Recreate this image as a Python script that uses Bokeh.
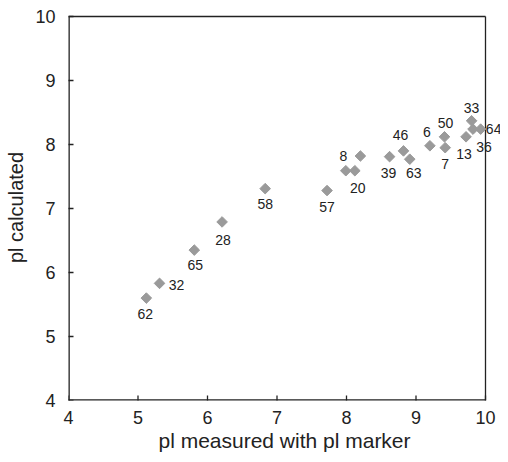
import numpy as np
from bokeh.plotting import figure
from bokeh.models import ColumnDataSource, FixedTicker
from bokeh.core.properties import value
from bokeh.embed import file_html
from bokeh.resources import INLINE

# data
ids = ["33", "64", "36", "13", "50", "7", "6", "46", "63", "39", "8", "20", "",
       "57", "58", "28", "65", "32", "62"]
pi_measured = [9.80, 9.93, 9.82, 9.72, 9.41, 9.42, 9.20, 8.82, 8.91, 8.62, 8.20,
               8.12, 7.99, 7.72, 6.83, 6.21, 5.81, 5.31, 5.12]
pi_calculated = [8.37, 8.24, 8.24, 8.12, 8.12, 7.95, 7.98, 7.90, 7.77, 7.81, 7.82,
                 7.59, 7.59, 7.28, 7.31, 6.79, 6.35, 5.83, 5.60]
ticks = [4, 5, 6, 7, 8, 9, 10]

# label placement (screen pixels, right / up)
lab_dx = [0, 13, 11, -2, 1, 0, -3, -3, 4, -1, -17, 3, 0, 0, 0, 1, 1, 17, -1]
lab_dy = [13, 0, -18, -17, 14, -16, 14, 16, -14, -17, 0, -17, 0, -17, -16, -18, -15, -2, -16]

FONT = "Liberation Sans"
INK = "#222222"
LW = 1.3      # edge thickness, px
TICK = 5      # inward tick length, px

lo, hi = ticks[0], ticks[-1]
W, H = 500, 454
B_LEFT, B_TOP, B_BOTTOM = 68, 14, 50
# x: frame runs to the right edge of the figure, the value 10 sits at 485 px
x_end = hi + (W - 485) * (hi - lo) / (485 - B_LEFT)
# y: a little room above 10 so the top edge is not cut
fh = H - B_TOP - B_BOTTOM
pad = 2.0
y_end = (hi - lo * pad / fh) / (1 - pad / fh)

# pixels per data unit, to turn the label pixel offsets into data offsets
ppx = (W - B_LEFT) / (x_end - lo)
ppy = fh / (y_end - lo)
lab_x = [x + dx / ppx for x, dx in zip(pi_measured, lab_dx)]
lab_y = [y + dy / ppy for y, dy in zip(pi_calculated, lab_dy)]

src = ColumnDataSource(dict(x=pi_measured, y=pi_calculated))
lab_src = ColumnDataSource(dict(x=lab_x, y=lab_y, t=ids))

p = figure(width=W, height=H, x_range=(lo, x_end), y_range=(lo, y_end),
           output_backend="svg", toolbar_location=None,
           min_border_left=B_LEFT, min_border_right=0, min_border_top=B_TOP,
           min_border_bottom=B_BOTTOM)
p.grid.visible = False
p.outline_line_color = None

mid = (lo + hi) / 2
span = hi - lo
edge = dict(fill_color=INK, line_color=None)
# box edges drawn as thin filled bars (the left and bottom ones are half cut by the frame)
p.rect(x=[lo], y=[mid], width=[2 * LW], height=[span], width_units="screen", **edge)
p.rect(x=[hi], y=[mid], width=[LW], height=[span], width_units="screen", **edge)
p.rect(x=[mid], y=[lo], width=[span], height=[2 * LW], height_units="screen", **edge)
p.rect(x=[mid], y=[hi], width=[span], height=[LW], height_units="screen", **edge)
# inward ticks
p.rect(x=ticks, y=[lo] * len(ticks), width=LW, height=2 * TICK,
       width_units="screen", height_units="screen", **edge)
p.rect(x=[lo] * len(ticks), y=ticks, width=2 * TICK, height=LW,
       width_units="screen", height_units="screen", **edge)

p.scatter("x", "y", source=src, marker="square", angle=np.pi / 4, size=7.5,
          fill_color="#9a9a9a", line_color="#9a9a9a")

p.text(x="x", y="y", text="t", source=lab_src,
       text_align="center", text_baseline="middle",
       text_font=value(FONT), text_font_size=value("14px"), text_color=INK)

for ax in (p.xaxis[0], p.yaxis[0]):
    ax.ticker = FixedTicker(ticks=ticks)
    ax.bounds = (lo, hi)
    ax.minor_tick_line_color = None
    ax.major_tick_in = 0
    ax.major_tick_out = 0
    ax.axis_line_color = None
    ax.major_tick_line_color = None
    ax.major_label_text_font = FONT
    ax.major_label_text_font_size = "18px"
    ax.major_label_text_color = INK
    ax.axis_label_text_font = FONT
    ax.axis_label_text_font_style = "normal"
    ax.axis_label_text_color = INK

p.xaxis.axis_label = "pl measured with pl marker"
p.yaxis.axis_label = "pl calculated"
p.xaxis.axis_label_text_font_size = "21px"
p.yaxis.axis_label_text_font_size = "20px"
p.xaxis.major_label_standoff = 10
p.yaxis.major_label_standoff = 13
p.xaxis.axis_label_standoff = 2
p.yaxis.axis_label_standoff = 5

open("out.html", "w").write(file_html(p, INLINE))
